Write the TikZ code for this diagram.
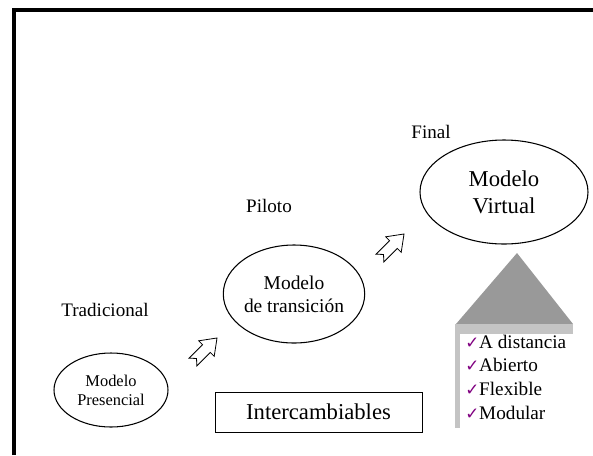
\documentclass[tikz,border=0pt]{standalone}
\usepackage{fontspec}
\setmainfont{Liberation Serif}
\newfontfamily\dejavu{DejaVu Sans}
\usetikzlibrary{shapes.geometric, positioning}
\definecolor{tickpurple}{RGB}{128,0,128}
\definecolor{roofgray}{RGB}{153,153,153}
\definecolor{bargray}{RGB}{196,196,196}
\newcommand{\okmark}{{\color{tickpurple}\dejavu\fontsize{12.5}{12.5}\selectfont ✓}}
\tikzset{
    modelo/.style={ellipse, draw, line width=0.8pt, inner sep=0pt, align=center},
    stagelbl/.style={font=\fontsize{14.3}{17}\selectfont},
    itemlbl/.style={font=\fontsize{14.4}{17.8}\selectfont, anchor=base west, inner sep=0pt},
    pics/notcharrow/.style={code={
        \draw[fill=white, line width=0.6pt, line join=miter]
            (-17,-5.5) -- (2,-5.5) -- (2,-11) -- (17,0) -- (2,11) -- (2,5.5) -- (-17,5.5) -- (-12,0) -- cycle;
    }},
}

\begin{document}
\begin{tikzpicture}[x=0.75pt, y=-0.75pt]

\useasboundingbox (0,0) rectangle (593,455);
\draw[line width=3pt] (14,455) -- (14,10) -- (593,10);

% the three stages
\node[modelo, minimum width=85.5pt, minimum height=55.5pt, font=\fontsize{12.3}{14.3}\selectfont] (pres) at (111,390) {Modelo\\Presencial};
\node[modelo, minimum width=102pt, minimum height=73.5pt, font=\fontsize{14.6}{17.3}\selectfont] (trans) at (294,294) {Modelo\\de transición};
\node[modelo, minimum width=126pt, minimum height=78pt, font=\fontsize{17}{20.3}\selectfont] (virt) at (504,192) {Modelo\\Virtual};

\node[stagelbl] (trad) at (105,310) {Tradicional};
\node[stagelbl] (pil) at (269,206) {Piloto};
\node[stagelbl] (fin) at (431,132) {Final};

\pic[rotate=45] (arr1) at (205,350) {notcharrow};
\pic[rotate=45] (arr2) at (392,246) {notcharrow};

\node[draw, line width=0.6pt, minimum width=155.25pt, minimum height=30pt, font=\fontsize{17}{20}\selectfont] (inter) at (318.5,412) {Intercambiables};

% roof with the list of features
\fill[roofgray] (517,253) -- (573,324) -- (456,324) -- cycle;
\fill[bargray] (455,324) rectangle (573,334);
\fill[bargray] (455,324) rectangle (460,428);

\foreach \txt [count=\i from 0] in {A distancia, Abierto, Flexible, Modular}
    \node[itemlbl] (item\i) at (465,348+23.7*\i) {\okmark\txt};

\end{tikzpicture}
\end{document}
